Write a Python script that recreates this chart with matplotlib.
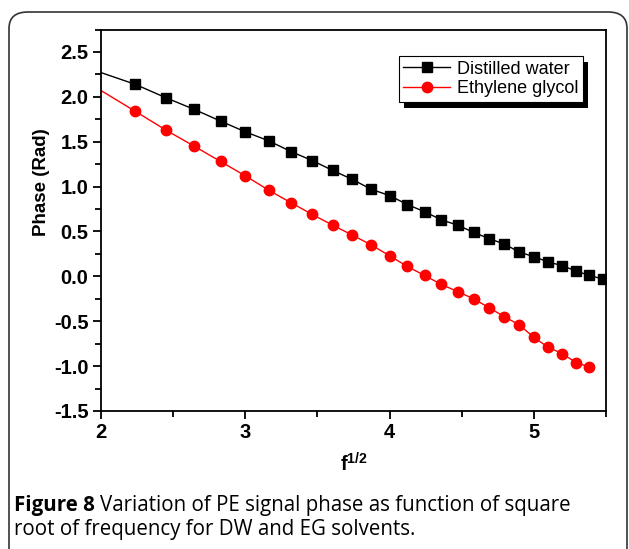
import numpy as np
import matplotlib.pyplot as plt
from matplotlib.patches import FancyBboxPatch, Rectangle
from matplotlib.transforms import IdentityTransform
from matplotlib.ticker import MultipleLocator

plt.rcParams['font.family'] = ['Liberation Sans', 'DejaVu Sans']
plt.rcParams['mathtext.fontset'] = 'custom'
plt.rcParams['mathtext.rm'] = 'Liberation Sans'
plt.rcParams['mathtext.bf'] = 'Liberation Sans:bold'
plt.rcParams['axes.unicode_minus'] = False

# x = sqrt(f), f = 4 .. 30
f_dw = np.arange(4, 31)
f_eg = np.arange(4, 30)
phase_dw = [2.27, 2.14, 1.99, 1.86, 1.73, 1.61, 1.51, 1.39, 1.29, 1.18,
            1.08, 0.97, 0.90, 0.80, 0.72, 0.63, 0.57, 0.49, 0.42, 0.36,
            0.27, 0.22, 0.16, 0.12, 0.06, 0.01, -0.03]
phase_eg = [2.07, 1.84, 1.63, 1.45, 1.28, 1.12, 0.96, 0.82, 0.69, 0.57,
            0.46, 0.35, 0.23, 0.11, 0.01, -0.09, -0.17, -0.25, -0.35, -0.45,
            -0.54, -0.68, -0.79, -0.86, -0.96, -1.01]

W, H = 629, 549
fig = plt.figure(figsize=(W/100, H/100), dpi=100)

# rounded frame round the figure and caption
frame = FancyBboxPatch((9/W, -30/H), 618/W, (549-12+30)/H,
                       boxstyle='round,pad=0,rounding_size=0.03',
                       transform=fig.transFigure, fill=False,
                       edgecolor='#333333', linewidth=1.2)
fig.patches.append(frame)

ax = fig.add_axes([101/W, (H-411)/H, 505/W, 381.5/H])

ax.plot(np.sqrt(f_dw), phase_dw, '-', color='black', lw=1,
        marker='s', ms=6.5, markevery=slice(1, None), label='Distilled water')
ax.plot(np.sqrt(f_eg), phase_eg, '-', color='red', lw=1,
        marker='o', ms=7.5, markevery=slice(1, None), label='Ethylene glycol')

ax.set_xlim(2, 5.5)
ax.set_ylim(-1.5, 2.75)
ax.xaxis.set_major_locator(MultipleLocator(1))
ax.xaxis.set_minor_locator(MultipleLocator(0.5))
ax.yaxis.set_major_locator(MultipleLocator(0.5))
ax.yaxis.set_minor_locator(MultipleLocator(0.25))
ax.yaxis.set_major_formatter(plt.FormatStrFormatter('%.1f'))
ax.tick_params(which='major', direction='out', length=6, width=1.3,
               labelsize=14.5, pad=3)
ax.tick_params(which='minor', direction='out', length=4, width=1.3)
for lab in ax.get_xticklabels() + ax.get_yticklabels():
    lab.set_fontweight('bold')
for s in ax.spines.values():
    s.set_linewidth(1.3)

ax.set_xlabel(r'$\mathbf{f^{1/2}}$', fontsize=14.5, labelpad=7)
ax.set_ylabel('Phase (Rad)', fontsize=13.5, fontweight='bold')
ax.yaxis.set_label_coords(-0.1, 0.6)

leg = ax.legend(loc='upper right', bbox_to_anchor=(0.955, 0.93),
                fancybox=False, framealpha=1, edgecolor='black',
                fontsize=13, handlelength=2.6, handletextpad=0.4,
                borderpad=0.25, labelspacing=0.15, borderaxespad=0)
leg.get_frame().set_linewidth(0.8)
leg.set_zorder(6)

fig.canvas.draw()
bb = leg.get_window_extent()
shadow = Rectangle((bb.x0 + 5, bb.y0 - 6), bb.width, bb.height,
                   transform=IdentityTransform(), facecolor='black',
                   edgecolor='none', zorder=5.5, clip_on=False)
ax.add_artist(shadow)

# caption
cap_y1 = 1 - 505/H
cap_y2 = 1 - 530/H
cap_size = 14.8
t1 = fig.text(14/W, cap_y1, 'Figure 8', family='Open Sans', fontweight='bold',
              fontsize=cap_size, va='center')
fig.canvas.draw()
r = t1.get_window_extent()
fig.text((r.x1 + 5)/W, cap_y1,
         'Variation of PE signal phase as function of square',
         family='Open Sans', fontsize=cap_size, va='center')
fig.text(14/W, cap_y2, 'root of frequency for DW and EG solvents.',
         family='Open Sans', fontsize=cap_size, va='center')

fig.savefig('out.png', dpi=100)
